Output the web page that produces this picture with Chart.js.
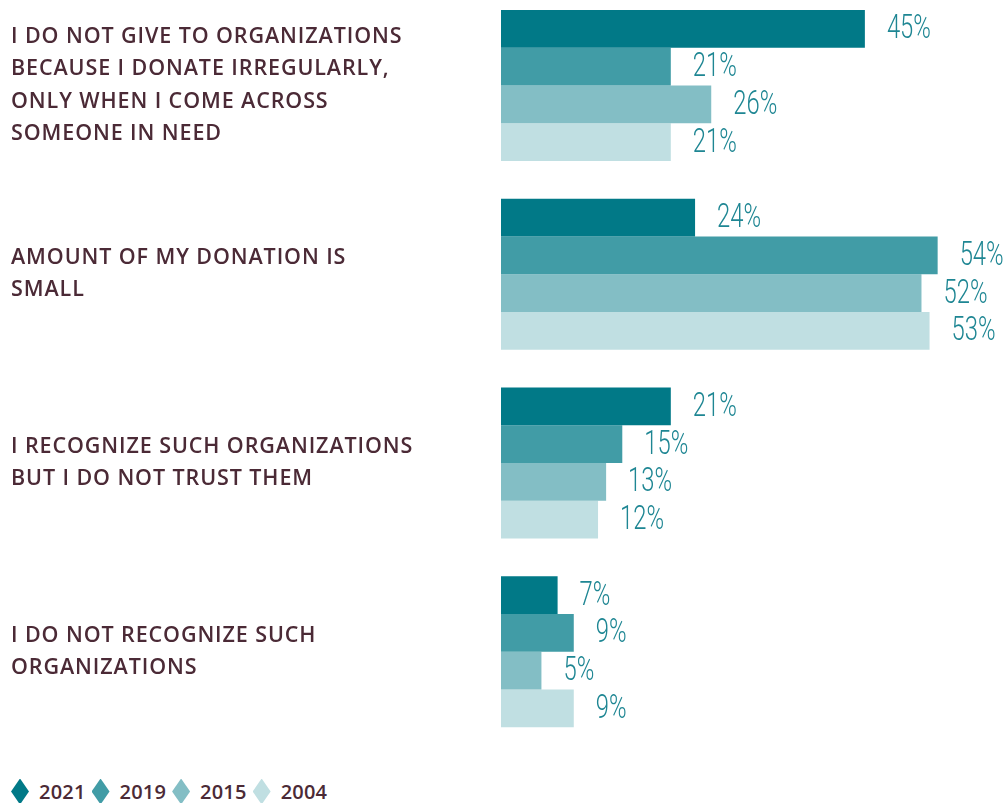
<!DOCTYPE html>
<html>
<head>
<meta charset="utf-8">
<script src="https://cdn.jsdelivr.net/npm/chart.js@4.4.1/dist/chart.umd.min.js"></script>
<style>
  body { margin: 0; background: #fff; overflow: hidden; }
  #wrap { position: absolute; left: 0; top: -9px; width: 1008px; height: 755px; }
  #legend { position: absolute; left: 11px; top: 778px; display: flex; font-family: "Open Sans", sans-serif; font-weight: 600; font-size: 20px; letter-spacing: 0.2px; color: #4b2a36; }
  .item { display: flex; align-items: center; margin-right: 6px; }
  .dia { width: 18px; height: 26px; clip-path: polygon(50% 0, 100% 50%, 50% 100%, 0 50%); margin-right: 10px; }
</style>
</head>
<body>
<div id="wrap"><canvas id="myChart" width="1008" height="755"></canvas></div>
<div id="legend"></div>
<script>
let reasons = [
  ['I DO NOT GIVE TO ORGANIZATIONS', 'BECAUSE I DONATE IRREGULARLY,', 'ONLY WHEN I COME ACROSS', 'SOMEONE IN NEED'],
  ['AMOUNT OF MY DONATION IS', 'SMALL'],
  ['I RECOGNIZE SUCH ORGANIZATIONS', 'BUT I DO NOT TRUST THEM'],
  ['I DO NOT RECOGNIZE SUCH', 'ORGANIZATIONS']
]

let years = ['2021', '2019', '2015', '2004']
let colors = ['#017987', '#419ca6', '#83bec5', '#c0dfe2']

let y2021 = [45, 24, 21, 7]
let y2019 = [21, 54, 15, 9]
let y2015 = [26, 52, 13, 5]
let y2004 = [21, 53, 12, 9]

let values = [y2021, y2019, y2015, y2004]

// wider spacing for the category text on the left
const spacing = {
  id: 'spacing',
  beforeDraw(chart) { chart.ctx.letterSpacing = '0.9px' }
}

// percent labels drawn just past the end of each bar, squeezed sideways
const valueLabels = {
  id: 'valueLabels',
  afterDatasetsDraw(chart) {
    const c = chart.ctx
    c.save()
    c.letterSpacing = '0px'
    c.fillStyle = '#1e8693'
    c.font = '300 34px Roboto'
    c.textBaseline = 'middle'
    chart.data.datasets.forEach((ds, i) => {
      chart.getDatasetMeta(i).data.forEach((bar, j) => {
        c.save()
        c.translate(bar.x + 22, bar.y + 1)
        c.scale(0.7, 1)
        c.fillText(ds.data[j] + '%', 0, 0)
        c.restore()
      })
    })
    c.restore()
  }
}

const ctx = document.getElementById('myChart')

let myChart = new Chart(ctx, {
  type: 'bar',
  data: {
    labels: reasons,
    datasets: years.map((yr, i) => ({
      label: yr,
      data: values[i],
      backgroundColor: colors[i],
      borderWidth: 0,
      barPercentage: 1,
      categoryPercentage: 0.8
    }))
  },
  options: {
    indexAxis: 'y',
    responsive: false,
    animation: false,
    layout: { padding: { left: 11, right: 0, top: 0, bottom: 0 } },
    plugins: { legend: { display: false }, tooltip: { enabled: false } },
    scales: {
      x: { display: false, min: 0, max: 62.7 },
      y: {
        grid: { display: false, drawTicks: false },
        border: { display: false },
        afterFit(axis) {
          axis.width = 490
          // tall multi-line labels should not shrink the plot
          axis.paddingTop = 0
          axis.paddingBottom = 0
        },
        ticks: {
          crossAlign: 'far',
          padding: 0,
          color: '#4b2a36',
          font: { family: 'Open Sans', size: 21.5, weight: 600, lineHeight: 1.49 }
        }
      }
    }
  },
  plugins: [spacing, valueLabels]
})

// legend with diamond markers
let legend = document.getElementById('legend')
years.forEach((yr, i) => {
  legend.innerHTML += `<div class="item"><div class="dia" style="background:${colors[i]}"></div>${yr}</div>`
})
</script>
</body>
</html>
